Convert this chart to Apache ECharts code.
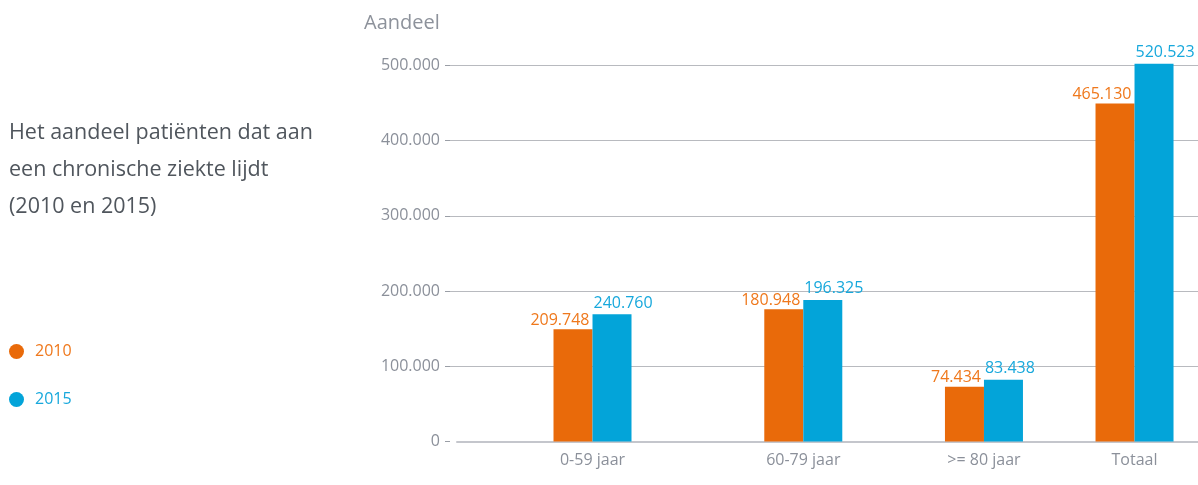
<!DOCTYPE html>
<html>
<head>
<meta charset="utf-8">
<script src="https://cdn.jsdelivr.net/npm/echarts@6/dist/echarts.min.js"></script>
<style>
  html, body { margin: 0; padding: 0; background: #ffffff; }
  #chart { width: 1198px; height: 485px; }
</style>
</head>
<body>
<div id="chart"></div>
<script>
// ---- Data ----
const categories = ['0-59 jaar', '60-79 jaar', '>= 80 jaar', 'Totaal'];
const seriesNames = ['2010', '2015'];
// bar heights as drawn in the reference
const values2010 = [149200, 175800, 72900, 449200];
const values2015 = [169100, 188200, 82200, 502000];
// value labels printed above the bars
const labels2010 = ['209.748', '180.948', '74.434', '465.130'];
const labels2015 = ['240.760', '196.325', '83.438', '520.523'];
// y axis ticks
const yMin = 0, yMax = 500000, yInterval = 100000;

const titleText = 'Het aandeel patiënten dat aan\neen chronische ziekte lijdt\n(2010 en 2015)';
const yAxisTitle = 'Aandeel';

// ---- Layout (uneven category spacing of the reference) ----
const slotIndex = [4, 11, 17, 22];
const slotCount = 25;

const colors = { '2010': '#e96a0a', '2015': '#03a4d9' };
const labelColors = { '2010': '#ef781c', '2015': '#17a8dc' };
const FONT = 'Open Sans';

function fmtThousands(v) {
  return String(Math.round(v)).replace(/\B(?=(\d{3})+(?!\d))/g, '.');
}

const axisData = Array.from({ length: slotCount }, () => '');
categories.forEach((c, i) => { axisData[slotIndex[i]] = c; });

function buildSeries(name, values, labels, isLeft) {
  const data = Array.from({ length: slotCount }, () => '-');
  const labelMap = {};
  values.forEach((v, i) => { data[slotIndex[i]] = v; labelMap[slotIndex[i]] = labels[i]; });
  return {
    name: name,
    type: 'bar',
    xAxisIndex: 1,
    yAxisIndex: 1,
    data: data,
    barWidth: 39,
    barGap: '0%',
    clip: false,
    itemStyle: { color: colors[name] },
    emphasis: { disabled: true },
    label: {
      show: true,
      position: isLeft ? ['100%', 0] : [0, 0],
      align: isLeft ? 'right' : 'left',
      verticalAlign: 'bottom',
      offset: isLeft ? [-3, -1] : [1, -3],
      color: labelColors[name],
      fontSize: 16,
      fontFamily: FONT,
      formatter: p => labelMap[p.dataIndex] || ''
    }
  };
}

const chart = echarts.init(document.getElementById('chart'), null, { renderer: 'canvas' });
chart.setOption({
  animation: false,
  backgroundColor: '#ffffff',
  textStyle: { fontFamily: FONT },
  title: [
    {
      text: titleText,
      left: 4,
      top: 109,
      textStyle: { fontFamily: FONT, fontSize: 21.5, fontWeight: 400, color: '#50565d', lineHeight: 37 }
    },
    {
      text: yAxisTitle,
      left: 359,
      top: 8,
      textStyle: { fontFamily: FONT, fontSize: 20, fontWeight: 400, color: '#8d929b' }
    }
  ],
  legend: {
    orient: 'vertical',
    left: 4,
    top: 338.5,
    itemWidth: 27,
    itemHeight: 15,
    itemGap: 32,
    icon: 'circle',
    selectedMode: false,
    textStyle: { fontFamily: FONT, fontSize: 16 },
    data: seriesNames.map(n => ({ name: n, textStyle: { color: labelColors[n] } }))
  },
  grid: [
    { left: 450, right: 0, top: 65.3, bottom: 43.5, containLabel: false, outerBoundsMode: 'none' },
    { left: 457, right: -11.8, top: 65.3, bottom: 43.5, containLabel: false, outerBoundsMode: 'none' }
  ],
  xAxis: [
    { gridIndex: 0, type: 'category', data: [''], show: false },
    {
      gridIndex: 1,
      type: 'category',
      data: axisData,
      axisLine: { show: true, lineStyle: { color: '#c4c6cc', width: 2 } },
      axisTick: { show: false },
      axisLabel: { interval: 0, color: '#8b909a', fontSize: 16, fontFamily: FONT, margin: 11 },
      splitLine: { show: false }
    }
  ],
  yAxis: [
    {
      gridIndex: 0,
      type: 'value',
      min: yMin,
      max: yMax,
      interval: yInterval,
      axisLine: { show: false },
      axisTick: { show: true, length: 5, lineStyle: { color: '#9a9ea6' } },
      axisLabel: { color: '#8b909a', fontSize: 16, fontFamily: FONT, margin: 10, formatter: v => fmtThousands(v) },
      splitLine: { show: true, showMinLine: false, lineStyle: { color: '#b8babf', width: 1 } }
    },
    { gridIndex: 1, type: 'value', min: yMin, max: yMax, show: false, splitLine: { show: false } }
  ],
  series: [
    buildSeries('2010', values2010, labels2010, true),
    buildSeries('2015', values2015, labels2015, false)
  ]
});
</script>
</body>
</html>
